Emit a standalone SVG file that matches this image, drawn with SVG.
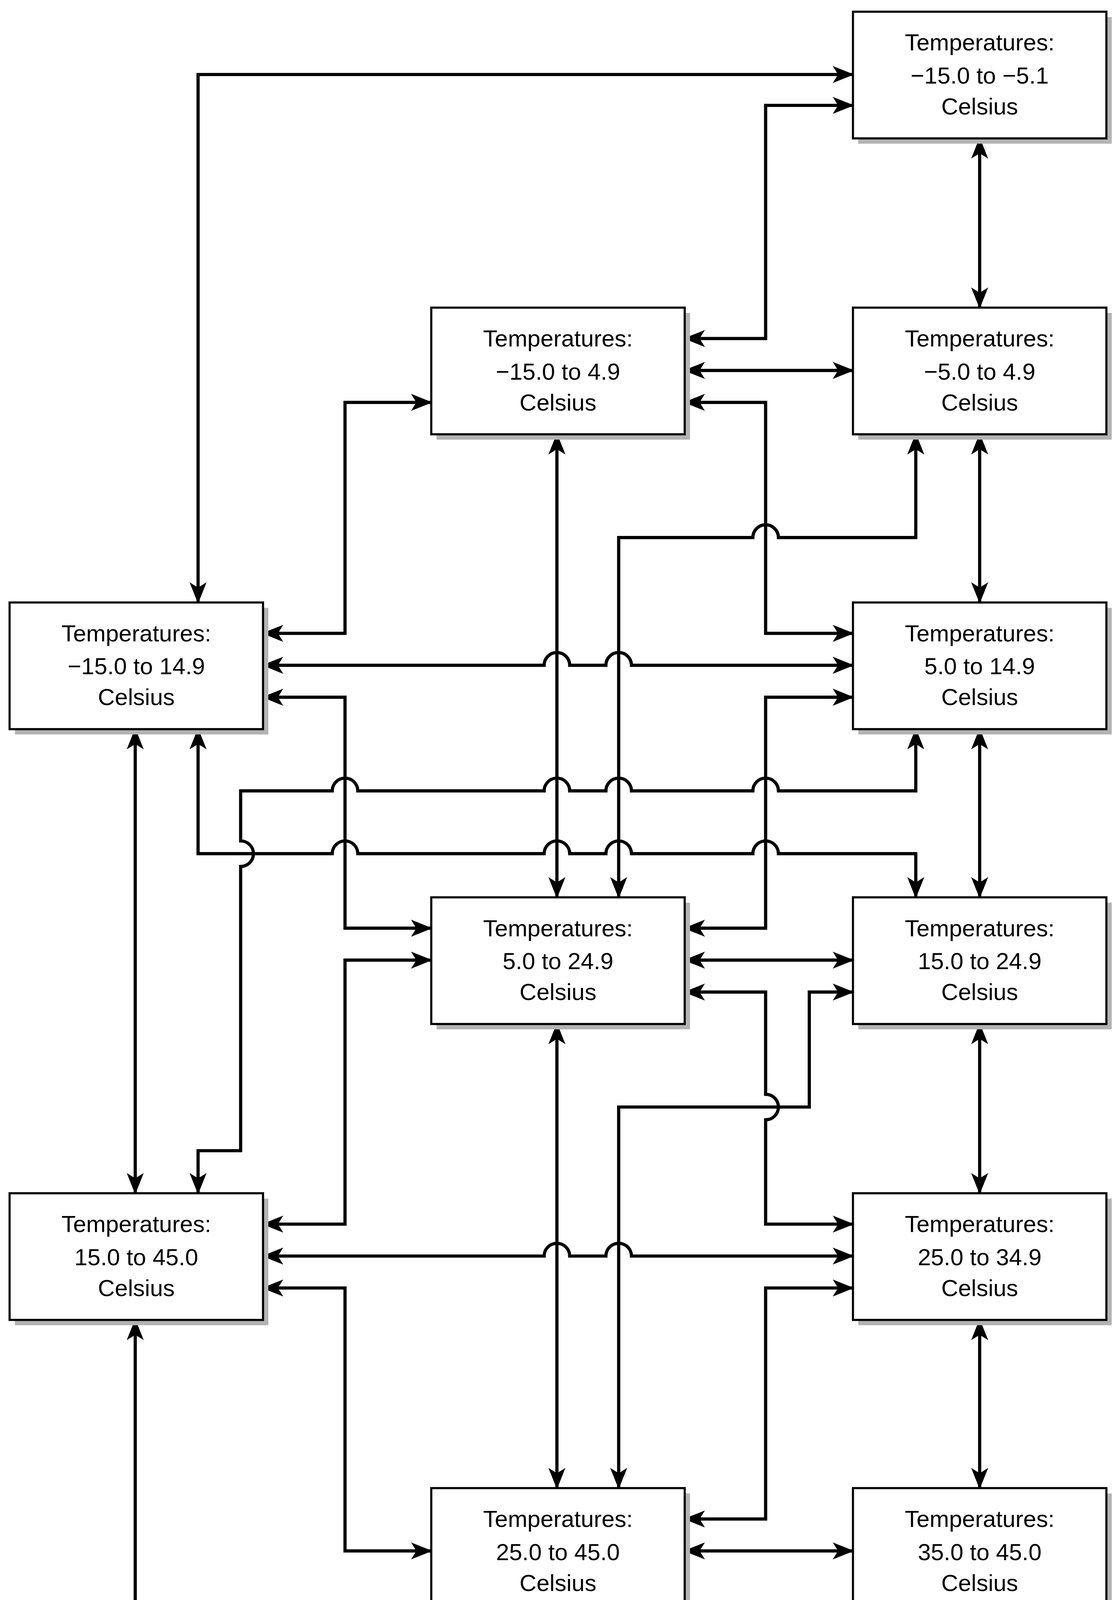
<svg xmlns="http://www.w3.org/2000/svg" width="2861" height="4274" viewBox="0 0 2861 4274">
<defs>
<style>
.b{fill:#fff;stroke:#000;stroke-width:2}
.s{fill:#b3b3b3}
.t{font-family:"Liberation Sans",Arial,sans-serif;font-size:22px;text-anchor:middle;dominant-baseline:central;fill:#000}
.c path{fill:none;stroke:#000;stroke-width:3;marker-start:url(#a);marker-end:url(#a)}
</style>
<marker id="a" viewBox="0 0 20 16" refX="19" refY="8" markerWidth="20" markerHeight="16" markerUnits="userSpaceOnUse" orient="auto-start-reverse"><path d="M0,0 L20,8 L0,16 L5,8 z" fill="#000"/></marker>
</defs>
<rect width="2861" height="4274" fill="#fff"/>
<g transform="scale(2.725)">
<g class="c" id="connectors">
<path d="M801,70 H186 V566"/>
<path d="M801,99 H719 V318 H643"/>
<path d="M920,130 V289"/>
<path d="M643,348 H801"/>
<path d="M643,378 H719 V595 H801"/>
<path d="M405,378 H324 V595 H247"/>
<path d="M523,408 V843"/>
<path d="M860,408 V505 H731 A12,12 0 0 0 707,505 H581 V843"/>
<path d="M920,408 V566"/>
<path d="M247,625 H511 A12,12 0 0 1 535,625 H569 A12,12 0 0 1 593,625 H801"/>
<path d="M247,655 H324 V872 H405"/>
<path d="M127,685 V1121"/>
<path d="M186,685 V802 H312 A12,12 0 0 1 336,802 H511 A12,12 0 0 1 535,802 H569 A12,12 0 0 1 593,802 H707 A12,12 0 0 1 731,802 H860 V843"/>
<path d="M860,685 V743 H731 A12,12 0 0 0 707,743 H593 A12,12 0 0 0 569,743 H535 A12,12 0 0 0 511,743 H336 A12,12 0 0 0 312,743 H226 V790 A12,12 0 0 1 226,814 V1081 H186 V1121"/>
<path d="M801,655 H719 V872 H643"/>
<path d="M920,685 V843"/>
<path d="M643,902 H801"/>
<path d="M643,932 H719 V1028 A12,12 0 0 1 719,1052 V1150 H801"/>
<path d="M801,932 H760 V1040 H581 V1398"/>
<path d="M405,902 H324 V1150 H247"/>
<path d="M523,962 V1398"/>
<path d="M920,962 V1121"/>
<path d="M247,1180 H511 A12,12 0 0 1 535,1180 H569 A12,12 0 0 1 593,1180 H801"/>
<path d="M247,1210 H324 V1457 H405"/>
<path d="M127,1240 V1556 H920 V1517"/>
<path d="M801,1210 H719 V1427 H643"/>
<path d="M920,1240 V1398"/>
<path d="M643,1457 H801"/>
</g>
<g id="nA"><rect class="s" x="806" y="16" width="238" height="119"/><rect class="b" x="801" y="11" width="238" height="119"/><text class="t" x="920" y="40">Temperatures:</text><text class="t" x="920" y="71">−15.0 to −5.1</text><text class="t" x="920" y="100">Celsius</text></g>
<g id="nB"><rect class="s" x="410" y="294" width="238" height="119"/><rect class="b" x="405" y="289" width="238" height="119"/><text class="t" x="524" y="318">Temperatures:</text><text class="t" x="524" y="349">−15.0 to 4.9</text><text class="t" x="524" y="378">Celsius</text></g>
<g id="nC"><rect class="s" x="806" y="294" width="238" height="119"/><rect class="b" x="801" y="289" width="238" height="119"/><text class="t" x="920" y="318">Temperatures:</text><text class="t" x="920" y="349">−5.0 to 4.9</text><text class="t" x="920" y="378">Celsius</text></g>
<g id="nD"><rect class="s" x="14" y="571" width="238" height="119"/><rect class="b" x="9" y="566" width="238" height="119"/><text class="t" x="128" y="595">Temperatures:</text><text class="t" x="128" y="626">−15.0 to 14.9</text><text class="t" x="128" y="655">Celsius</text></g>
<g id="nE"><rect class="s" x="806" y="571" width="238" height="119"/><rect class="b" x="801" y="566" width="238" height="119"/><text class="t" x="920" y="595">Temperatures:</text><text class="t" x="920" y="626">5.0 to 14.9</text><text class="t" x="920" y="655">Celsius</text></g>
<g id="nF"><rect class="s" x="410" y="848" width="238" height="119"/><rect class="b" x="405" y="843" width="238" height="119"/><text class="t" x="524" y="872">Temperatures:</text><text class="t" x="524" y="903">5.0 to 24.9</text><text class="t" x="524" y="932">Celsius</text></g>
<g id="nG"><rect class="s" x="806" y="848" width="238" height="119"/><rect class="b" x="801" y="843" width="238" height="119"/><text class="t" x="920" y="872">Temperatures:</text><text class="t" x="920" y="903">15.0 to 24.9</text><text class="t" x="920" y="932">Celsius</text></g>
<g id="nH"><rect class="s" x="14" y="1126" width="238" height="119"/><rect class="b" x="9" y="1121" width="238" height="119"/><text class="t" x="128" y="1150">Temperatures:</text><text class="t" x="128" y="1181">15.0 to 45.0</text><text class="t" x="128" y="1210">Celsius</text></g>
<g id="nI"><rect class="s" x="806" y="1126" width="238" height="119"/><rect class="b" x="801" y="1121" width="238" height="119"/><text class="t" x="920" y="1150">Temperatures:</text><text class="t" x="920" y="1181">25.0 to 34.9</text><text class="t" x="920" y="1210">Celsius</text></g>
<g id="nJ"><rect class="s" x="410" y="1403" width="238" height="119"/><rect class="b" x="405" y="1398" width="238" height="119"/><text class="t" x="524" y="1427">Temperatures:</text><text class="t" x="524" y="1458">25.0 to 45.0</text><text class="t" x="524" y="1487">Celsius</text></g>
<g id="nK"><rect class="s" x="806" y="1403" width="238" height="119"/><rect class="b" x="801" y="1398" width="238" height="119"/><text class="t" x="920" y="1427">Temperatures:</text><text class="t" x="920" y="1458">35.0 to 45.0</text><text class="t" x="920" y="1487">Celsius</text></g>
</g>
</svg>
